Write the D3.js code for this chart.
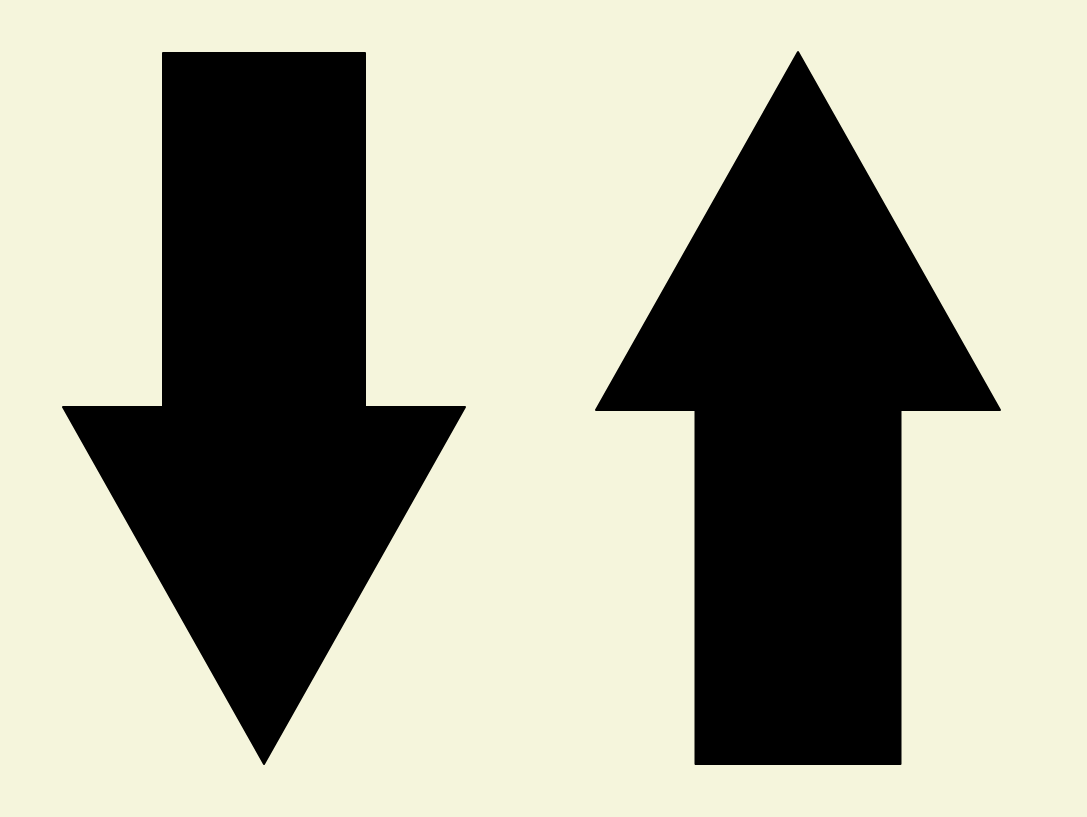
<!DOCTYPE html>
<html>
<head>
<meta charset="utf-8">
<script src="https://cdn.jsdelivr.net/npm/d3@7"></script>
<style>
  html, body { margin: 0; padding: 0; background: #f5f5dc; }
  svg { display: block; }
</style>
</head>
<body>
<div id="chart"></div>
<script>
// Arrow data (in plot units, same scale as the page)
const arrowNames = ["down", "up"];
const centerX = [264, 798];
const tailY = [53, 764];
const tipY = [764, 52];
const headBaseY = [407, 410];
const shaftWidth = [202, 205];
const headWidth = [402, 404];

const width = 1087, height = 817;

const x = d3.scaleLinear().domain([0, 1087]).range([0, width]);
const y = d3.scaleLinear().domain([0, 817]).range([0, height]);

const svg = d3.select("#chart")
  .append("svg")
  .attr("width", width)
  .attr("height", height)
  .attr("viewBox", [0, 0, width, height]);

svg.append("rect")
  .attr("width", width)
  .attr("height", height)
  .attr("fill", "#f5f5dc");

// Build the outline of each arrow from its parameters
const outline = i => {
  const cx = centerX[i], sw = shaftWidth[i] / 2, hw = headWidth[i] / 2;
  return [
    [cx - sw, tailY[i]],
    [cx + sw, tailY[i]],
    [cx + sw, headBaseY[i]],
    [cx + hw, headBaseY[i]],
    [cx, tipY[i]],
    [cx - hw, headBaseY[i]],
    [cx - sw, headBaseY[i]]
  ];
};

const line = d3.line()
  .x(d => x(d[0]))
  .y(d => y(d[1]))
  .curve(d3.curveLinearClosed);

svg.selectAll("path.arrow")
  .data(arrowNames)
  .join("path")
  .attr("class", d => `arrow ${d}`)
  .attr("d", (d, i) => line(outline(i)))
  .attr("fill", "#000")
  .attr("stroke", "#000")
  .attr("stroke-width", 2)
  .attr("stroke-linejoin", "round");
</script>
</body>
</html>
